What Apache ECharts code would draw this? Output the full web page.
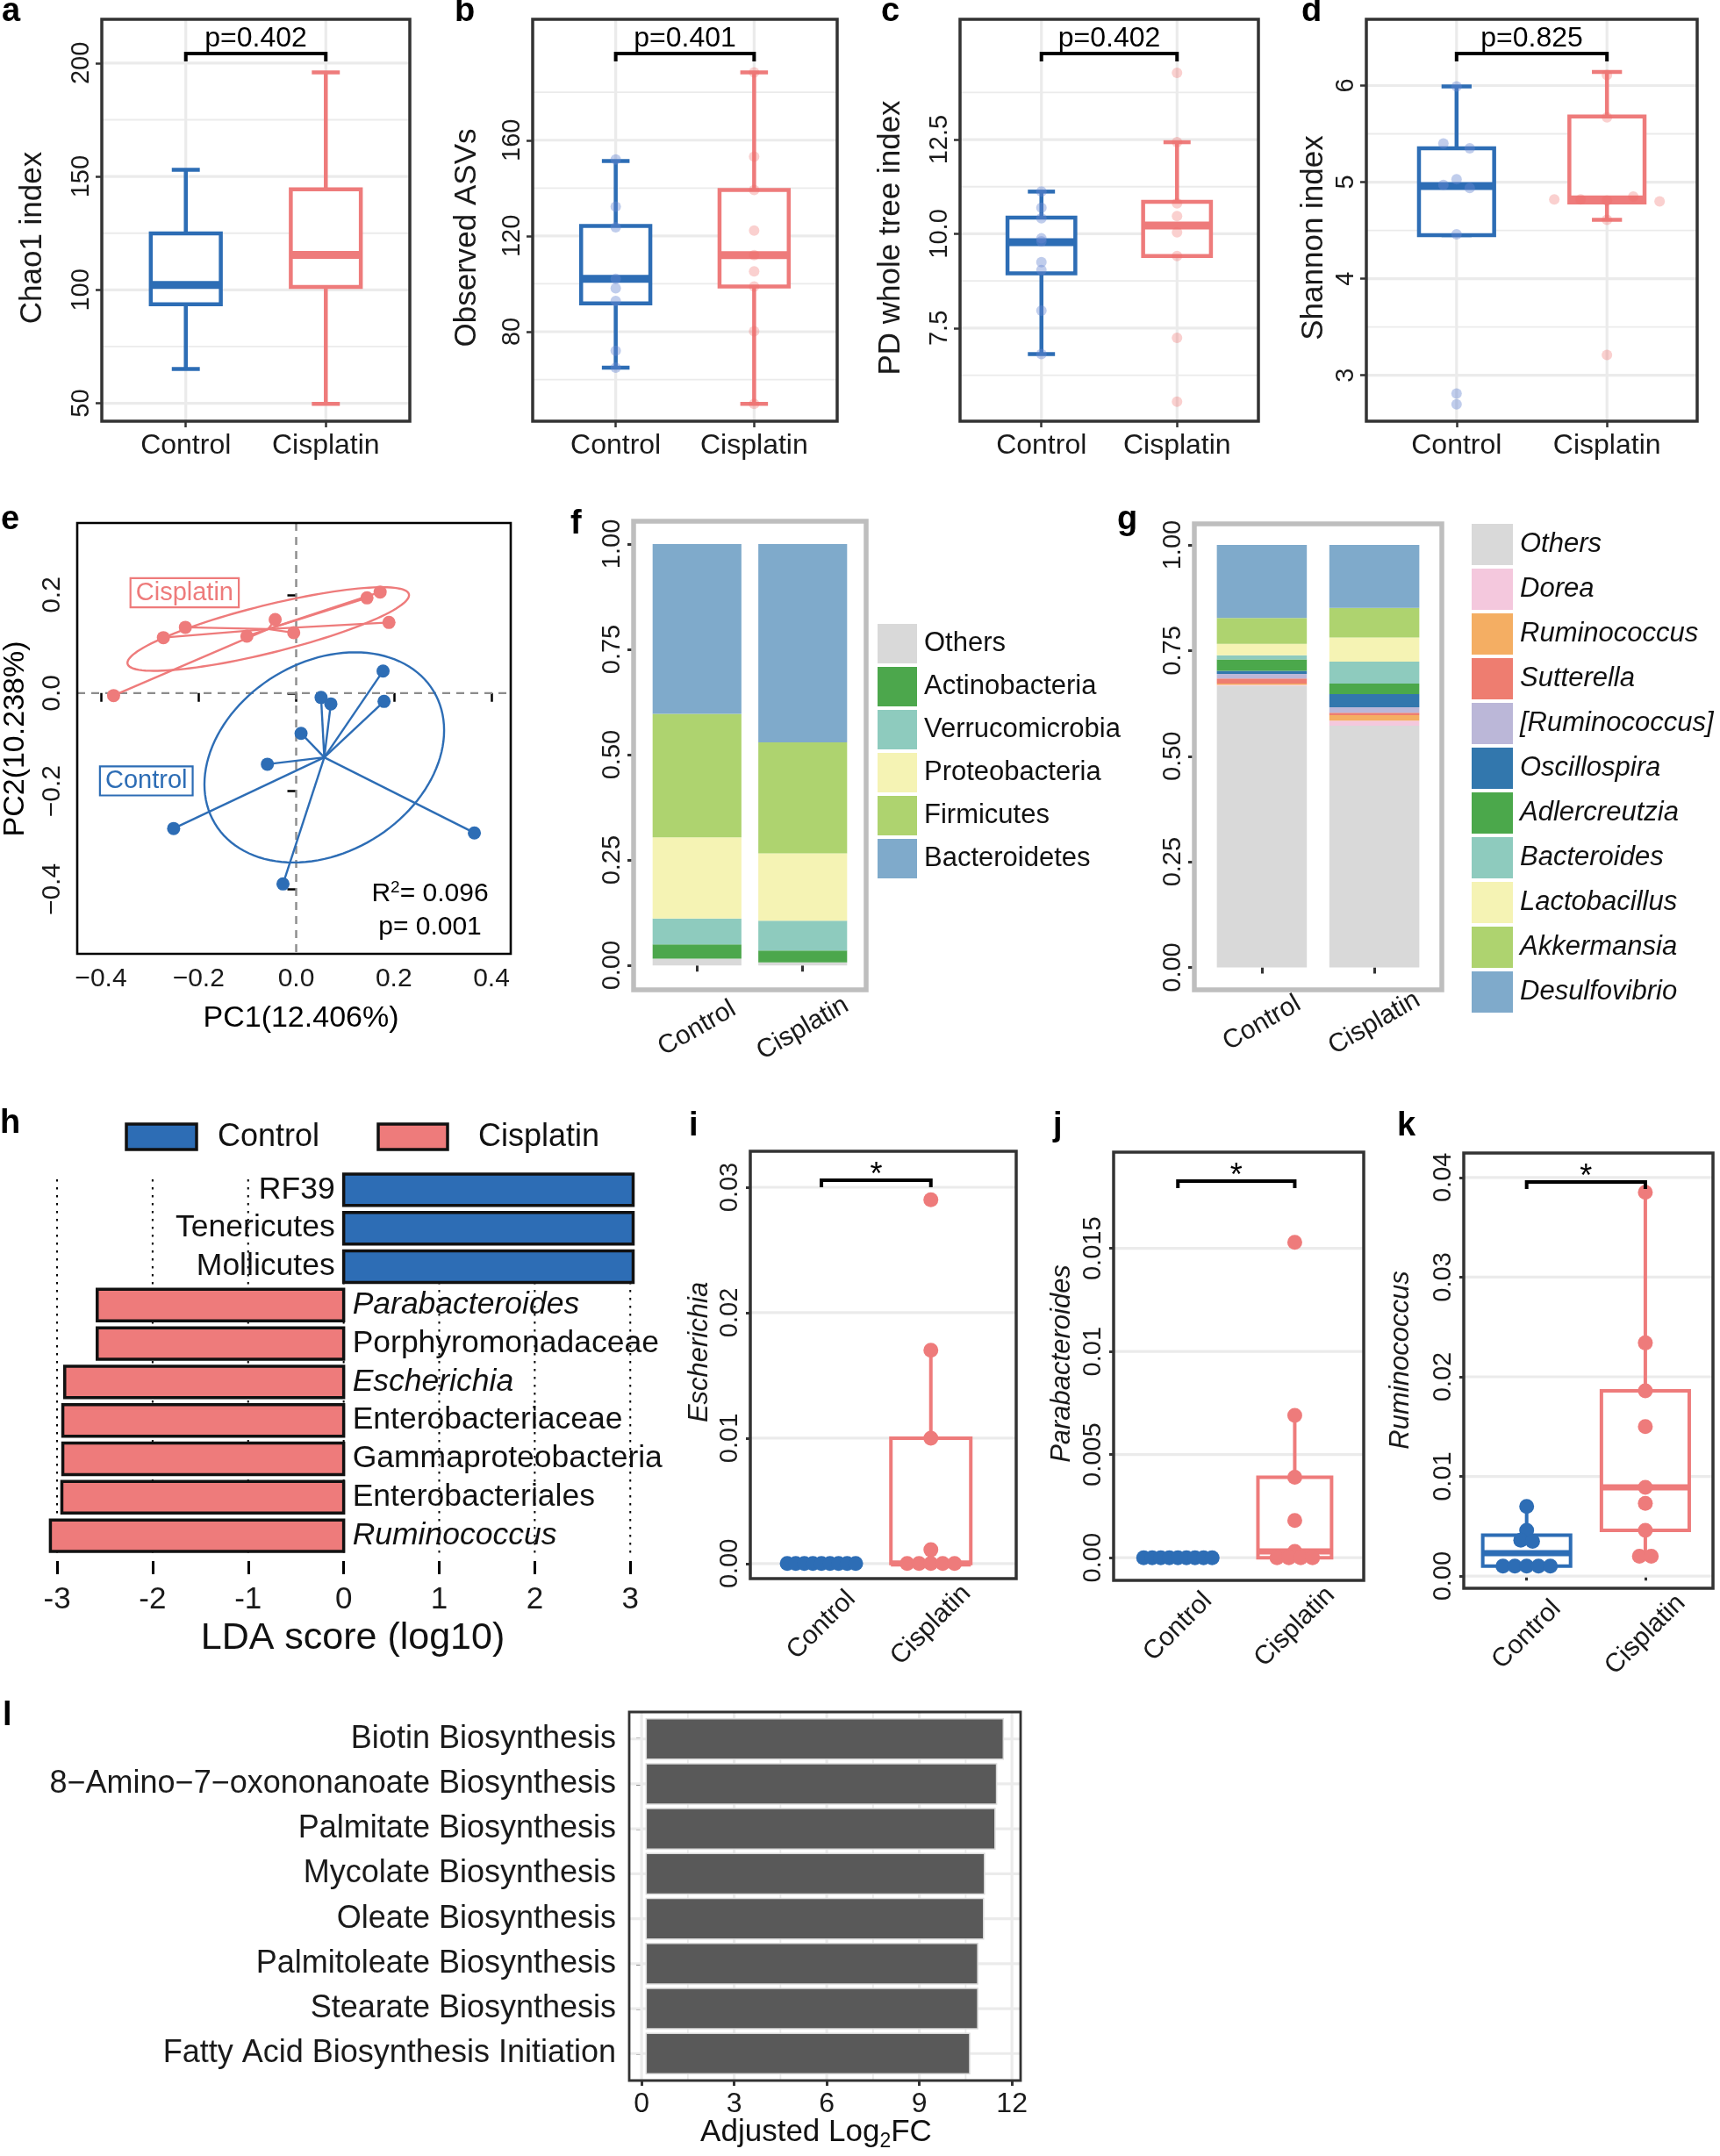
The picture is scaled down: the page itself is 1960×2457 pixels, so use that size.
<!DOCTYPE html>
<html><head><meta charset="utf-8">
<script src="https://cdn.jsdelivr.net/npm/echarts@6/dist/echarts.min.js"></script>
<style>html,body{margin:0;padding:0;background:#fff}#c{width:1960px;height:2457px}</style>
</head><body><div id="c"></div>
<script>
// ===================== DATA =====================
const groups = ['Control', 'Cisplatin'];

// a-d alpha diversity boxes: [lower whisker, Q1, median, Q3, upper whisker]
const chao1Box = [[65.1, 93.7, 102.2, 124.9, 152.9], [49.7, 101.3, 115.4, 144.3, 195.9]];
const chao1Points = [[], []];
const asvBox = [[65.0, 91.8, 102.1, 124.2, 151.3], [49.8, 98.9, 112.0, 139.2, 188.3]];
const asvPoints = [[151.9, 132.2, 123.6, 102.1, 98.1, 92.8, 72.0, 65.0], [188.3, 153.1, 139.2, 122.2, 112.0, 105.2, 98.9, 80.2, 49.8]];
const pdBox = [[6.81, 8.95, 9.78, 10.43, 11.12], [9.41, 9.41, 10.22, 10.85, 12.43]];
const pdPoints = [[11.12, 10.69, 10.41, 9.88, 9.80, 9.25, 9.04, 7.96, 6.81], [14.27, 12.43, 10.81, 10.47, 10.04, 9.41, 7.24, 5.55]];
const shannonBox = [[4.45, 4.45, 4.96, 5.35, 5.99], [4.61, 4.79, 4.82, 5.68, 6.14]];
const shannonPoints = [[5.99, 5.40, 5.35, 5.03, 4.97, 4.94, 4.46, 2.81, 2.70], [6.11, 5.67, 4.82, 4.82, 4.81, 4.85, 4.80, 4.61, 3.21]];
const alphaP = ['p=0.402', 'p=0.401', 'p=0.402', 'p=0.825'];
const chao1Ticks = [50, 100, 150, 200], chao1Minor = [75, 125, 175];
const asvTicks = [80, 120, 160], asvMinor = [60, 100, 140, 180];
const pdTicks = [7.5, 10, 12.5], pdTickLabels = ['7.5', '10.0', '12.5'], pdMinor = [6.25, 8.75, 11.25, 13.75];
const shannonTicks = [3, 4, 5, 6], shannonMinor = [3.5, 4.5, 5.5];

// e PCoA
const pcoaControl = [[0.178, 0.045], [0.180, -0.017], [0.051, -0.009], [0.071, -0.022], [0.010, -0.082], [-0.059, -0.145], [-0.251, -0.276], [-0.027, -0.389], [0.365, -0.285]];
const pcoaCisplatin = [[-0.374, -0.005], [-0.272, 0.113], [-0.227, 0.134], [-0.101, 0.116], [-0.043, 0.150], [-0.005, 0.123], [0.145, 0.194], [0.172, 0.206], [0.190, 0.144]];
const pcoaXTicks = [-0.4, -0.2, 0, 0.2, 0.4], pcoaYTicks = [-0.4, -0.2, 0, 0.2];

// f phylum composition (bottom -> top)
const phylumNames = ['Others', 'Actinobacteria', 'Verrucomicrobia', 'Proteobacteria', 'Firmicutes', 'Bacteroidetes'];
const phylumControl = [0.016, 0.034, 0.061, 0.193, 0.293, 0.403];
const phylumCisplatin = [0.007, 0.028, 0.071, 0.160, 0.263, 0.471];
// g genus composition (bottom -> top)
const genusNames = ['Others', 'Dorea', 'Ruminococcus', 'Sutterella', '[Ruminococcus]', 'Oscillospira', 'Adlercreutzia', 'Bacteroides', 'Lactobacillus', 'Akkermansia', 'Desulfovibrio'];
const genusControl = [0.667, 0.002, 0.003, 0.012, 0.011, 0.007, 0.027, 0.010, 0.027, 0.061, 0.173];
const genusCisplatin = [0.572, 0.012, 0.013, 0.006, 0.013, 0.031, 0.025, 0.052, 0.057, 0.070, 0.149];
const compTicks = [0, 0.25, 0.5, 0.75, 1], compTickLabels = ['0.00', '0.25', '0.50', '0.75', '1.00'];

// h LEfSe
const ldaTaxa = ['RF39', 'Tenericutes', 'Mollicutes', 'Parabacteroides', 'Porphyromonadaceae', 'Escherichia', 'Enterobacteriaceae', 'Gammaproteobacteria', 'Enterobacteriales', 'Ruminococcus'];
const ldaScores = [3.03, 3.03, 3.03, -2.58, -2.58, -2.92, -2.94, -2.94, -2.95, -3.07];
const ldaGenera = ['Parabacteroides', 'Escherichia', 'Ruminococcus'];
const ldaTicks = [-3, -2, -1, 0, 1, 2, 3];

// i-k relative abundance
const escherichiaBox = [[0, 0, 0, 0, 0], [0, 0, 0, 0.010, 0.017]];
const escherichiaPts = [[0, 0, 0, 0, 0, 0, 0, 0, 0], [0.029, 0.017, 0.010, 0.0011, 0, 0, 0, 0, 0]];
const paraBox = [[0, 0, 0, 0, 0], [0, 0, 0.0003, 0.0039, 0.0069]];
const paraPts = [[0, 0, 0, 0, 0, 0, 0, 0, 0], [0.0153, 0.0069, 0.0039, 0.0018, 0.0003, 0, 0, 0, 0]];
const rumiBox = [[0.0010, 0.0010, 0.0023, 0.0041, 0.0070], [0.0020, 0.0046, 0.0089, 0.0186, 0.0385]];
const rumiPts = [[0.0070, 0.0046, 0.0036, 0.0035, 0.0010, 0.0010, 0.0010, 0.0010, 0.0010], [0.0385, 0.0234, 0.0186, 0.0150, 0.0089, 0.0073, 0.0046, 0.0020, 0.0020]];
const escTicks = [0, 0.01, 0.02, 0.03], escLabels = ['0.00', '0.01', '0.02', '0.03'];
const paraTicks = [0, 0.005, 0.01, 0.015], paraLabels = ['0.00', '0.005', '0.01', '0.015'];
const rumiTicks = [0, 0.01, 0.02, 0.03, 0.04], rumiLabels = ['0.00', '0.01', '0.02', '0.03', '0.04'];

// l pathways
const pathways = ['Biotin Biosynthesis', '8\u2212Amino\u22127\u2212oxononanoate Biosynthesis', 'Palmitate Biosynthesis', 'Mycolate Biosynthesis', 'Oleate Biosynthesis', 'Palmitoleate Biosynthesis', 'Stearate Biosynthesis', 'Fatty Acid Biosynthesis Initiation'];
const pathwayLog2FC = [11.72, 11.50, 11.45, 11.11, 11.08, 10.89, 10.89, 10.63];
const fcTicks = [0, 3, 6, 9, 12];

// ===================== STYLE =====================
const FONT = '"Liberation Sans", Arial, Helvetica, sans-serif';
const TXT = '#1a1a1a';
const BLUE = '#2D6DB5', RED = '#EE7B7B';
const BLUE_FADE = 'rgba(105,135,210,0.42)', RED_FADE = 'rgba(238,110,105,0.32)';
const PHYLUM_COLORS = ['#D9D9D9', '#4CA74C', '#8ECBBE', '#F5F3B4', '#AED36F', '#7FAACB'];
const GENUS_COLORS = ['#D9D9D9', '#F4C8DD', '#F4AE63', '#EE7D70', '#BBB7D8', '#3277AD', '#4BA84B', '#8ECBBE', '#F5F3B4', '#AED36F', '#7FAACB'];
const ELLIPSE_K = 1.41;
const BAR_BASE = 0.15;

const opt = { animation: false, backgroundColor: '#fff', grid: [], xAxis: [], yAxis: [], series: [], legend: [], graphic: { elements: [] } };
const G = opt.graphic.elements;

function fontStr(size, italic, bold) { return (italic ? 'italic ' : 'normal ') + (bold ? 'bold ' : 'normal ') + size + 'px ' + FONT; }
function T(x, y, text, o) {
  o = o || {};
  const el = { type: 'text', x: x, y: y, rotation: o.rot || 0, silent: true, z: 50,
    style: { text: text, font: fontStr(o.size || 30, o.italic, o.bold), fill: o.color || TXT,
      textAlign: o.align || 'center', textVerticalAlign: o.va || 'middle', align: o.align || 'center', verticalAlign: o.va || 'middle' } };
  if (o.rich) el.style.rich = o.rich;
  G.push(el);
}
function lookupLabel(ticks, labels) {
  return function (v) { for (let i = 0; i < ticks.length; i++) if (Math.abs(ticks[i] - v) < 1e-9) return labels[i]; return ''; };
}
function valAxis(min, max, ticks, labels, o) {
  o = o || {};
  const ax = {
    type: 'value', min: min, max: max, inverse: !!o.inverse, offset: o.offset || 0, show: o.show !== false,
    axisLine: { show: false },
    axisTick: { show: o.tick !== false, customValues: ticks, length: o.tickLen || 7, inside: false, lineStyle: { color: o.tickColor || '#333', width: o.tickW || 2.5 } },
    axisLabel: { show: o.label !== false, customValues: ticks, formatter: lookupLabel(ticks, labels), rotate: o.rotate || 0, margin: o.margin == null ? 10 : o.margin,
      fontSize: o.fontSize || 29, fontFamily: FONT, color: TXT, fontStyle: o.italic ? 'italic' : 'normal', hideOverlap: false, showMinLabel: true, showMaxLabel: true },
    splitLine: { show: false }, minorTick: { show: false }, minorSplitLine: { show: false }, axisPointer: { show: false }
  };
  if (o.align) ax.axisLabel.align = o.align;
  if (o.va) ax.axisLabel.verticalAlign = o.va;
  return ax;
}
function addCartesian(rect, xa, ya) {
  const gi = opt.grid.length;
  opt.grid.push({ left: rect[0], top: rect[1], width: rect[2] - rect[0], height: rect[3] - rect[1], containLabel: false, outerBoundsMode: 'none', show: false });
  xa.gridIndex = gi; ya.gridIndex = gi;
  opt.xAxis.push(xa); opt.yAxis.push(ya);
  return gi;
}
function gridLines(gi, hMaj, hMin, vMaj, vMin, st) {
  st = st || {};
  const data = [];
  hMin.forEach(v => data.push([v, 0, 0])); hMaj.forEach(v => data.push([v, 1, 0]));
  vMin.forEach(v => data.push([v, 0, 1])); vMaj.forEach(v => data.push([v, 1, 1]));
  opt.series.push({ type: 'custom', xAxisIndex: gi, yAxisIndex: gi, z: 1, silent: true, data: data,
    renderItem: function (params, api) {
      const v = api.value(0), major = api.value(1), dir = api.value(2), c = params.coordSys;
      let shape;
      if (dir === 0) { const y = api.coord([0, v])[1]; shape = { x1: c.x, y1: y, x2: c.x + c.width, y2: y }; }
      else { const x = api.coord([v, 0])[0]; shape = { x1: x, y1: c.y + (st.topPad || 0), x2: x, y2: c.y + c.height }; }
      const style = { stroke: st.color || '#EBEBEB', lineWidth: major ? (st.majW || 3.2) : (st.minW || 1.8) };
      if (st.dash) style.lineDash = st.dash;
      return { type: 'line', shape: shape, style: style };
    } });
}
function frame(gi, color, width) {
  opt.series.push({ type: 'custom', xAxisIndex: gi, yAxisIndex: gi, z: 8, silent: true, data: [[0, 0]],
    renderItem: function (params) { const c = params.coordSys;
      return { type: 'rect', shape: { x: c.x, y: c.y, width: c.width, height: c.height }, style: { fill: 'none', stroke: color, lineWidth: width } }; } });
}
function swarm(vals, tol, maxSpan, step) {
  const off = vals.map(() => 0), used = vals.map(() => false);
  for (let i = 0; i < vals.length; i++) {
    if (used[i]) continue;
    const grp = [i]; used[i] = true;
    for (let j = i + 1; j < vals.length; j++) if (!used[j] && Math.abs(vals[j] - vals[i]) <= tol) { grp.push(j); used[j] = true; }
    const n = grp.length, s = n > 1 ? Math.min(step, maxSpan / (n - 1)) : 0;
    grp.forEach((idx, k) => { off[idx] = (k - (n - 1) / 2) * s; });
  }
  return off;
}
function boxSeries(gi, box, st) {
  opt.series.push({ type: 'custom', xAxisIndex: gi, yAxisIndex: gi, z: 3, silent: true,
    data: box.map((b, i) => [i + 1].concat(b)),
    renderItem: function (params, api) {
      const g = api.value(0), color = g === 1 ? BLUE : RED;
      const yv = k => api.coord([g, api.value(k)])[1];
      const yLw = yv(1), yQ1 = yv(2), yMed = yv(3), yQ3 = yv(4), yUw = yv(5);
      const cx = api.coord([g, 0])[0];
      const xl = api.coord([g - st.boxW / 2, 0])[0], xr = api.coord([g + st.boxW / 2, 0])[0];
      const ls = { stroke: color, lineWidth: st.lw };
      const ch = [
        { type: 'line', shape: { x1: cx, y1: yUw, x2: cx, y2: yQ3 }, style: ls },
        { type: 'line', shape: { x1: cx, y1: yQ1, x2: cx, y2: yLw }, style: ls }
      ];
      if (st.capW) {
        const cl = api.coord([g - st.capW / 2, 0])[0], cr = api.coord([g + st.capW / 2, 0])[0];
        ch.push({ type: 'line', shape: { x1: cl, y1: yUw, x2: cr, y2: yUw }, style: ls });
        ch.push({ type: 'line', shape: { x1: cl, y1: yLw, x2: cr, y2: yLw }, style: ls });
      }
      ch.push({ type: 'rect', shape: { x: xl, y: yQ3, width: xr - xl, height: Math.max(0, yQ1 - yQ3) }, style: { fill: '#fff', stroke: color, lineWidth: st.lw } });
      ch.push({ type: 'line', shape: { x1: xl, y1: yMed, x2: xr, y2: yMed }, style: { stroke: color, lineWidth: st.medW } });
      return { type: 'group', children: ch };
    } });
}
function pointSeries(gi, pts, st) {
  const data = [];
  pts.forEach((arr, gIdx) => {
    const off = st.step ? swarm(arr, st.tol, st.maxSpan, st.step) : arr.map(() => 0);
    arr.forEach((v, i) => data.push([gIdx + 1, v, off[i]]));
  });
  opt.series.push({ type: 'custom', xAxisIndex: gi, yAxisIndex: gi, z: 4, silent: true, data: data,
    renderItem: function (params, api) {
      const g = api.value(0), p = api.coord([g, api.value(1)]);
      return { type: 'circle', shape: { cx: p[0] + api.value(2), cy: p[1], r: st.r }, style: { fill: g === 1 ? st.c1 : st.c2 } };
    } });
}
function bracket(gi, label, o) {
  opt.series.push({ type: 'custom', xAxisIndex: gi, yAxisIndex: gi, z: 6, silent: true, data: [[1.5, 0]],
    renderItem: function (params, api) {
      const c = params.coordSys, x1 = api.coord([1, 0])[0], x2 = api.coord([2, 0])[0];
      const y = c.y + o.lineY, yt = y + o.drop;
      return { type: 'group', children: [
        { type: 'polyline', shape: { points: [[x1, yt], [x1, y], [x2, y], [x2, yt]] }, style: { stroke: '#000', lineWidth: o.lw, fill: 'none' } },
        { type: 'text', x: (x1 + x2) / 2, y: c.y + o.textY, style: { text: label, font: fontStr(o.size, false, false), fill: '#000', align: 'center', verticalAlign: 'middle', textAlign: 'center', textVerticalAlign: 'middle' } }
      ] };
    } });
}

// ===================== a-d alpha diversity =====================
function alphaPanel(P) {
  const gi = addCartesian(P.rect,
    valAxis(0.4, 2.6, [1, 2], groups, { margin: 12, fontSize: 32, tickLen: 7 }),
    valAxis(P.yMin, P.yMax, P.ticks, P.labels || P.ticks.map(String), { rotate: 90, margin: 9, fontSize: 29, tickLen: 7 }));
  gridLines(gi, P.ticks, P.minor, [1, 2], []);
  boxSeries(gi, P.box, { boxW: 0.5, capW: 0.2, lw: 4.5, medW: 9 });
  pointSeries(gi, P.points, { r: 6, c1: BLUE_FADE, c2: RED_FADE, step: P.step || 0, tol: P.tol || 0, maxSpan: 120 });
  bracket(gi, P.p, { lineY: 39, drop: 9, lw: 4, textY: 22, size: 32 });
  frame(gi, '#333', 3.5);
  T(P.title[0], P.title[1], P.title[2], { size: 35, rot: Math.PI / 2 });
  T(P.letter[0], P.letter[1], P.letter[2], { size: 38, bold: true, align: 'left', color: '#000' });
}
alphaPanel({ rect: [116, 22, 467, 480], yMin: 42.1, yMax: 219.3, ticks: chao1Ticks, minor: chao1Minor, box: chao1Box, points: chao1Points, p: alphaP[0], title: [37, 271, 'Chao1 index'], letter: [2, 14, 'a'] });
alphaPanel({ rect: [607, 22, 954, 480], yMin: 42.6, yMax: 210.5, ticks: asvTicks, minor: asvMinor, box: asvBox, points: asvPoints, p: alphaP[1], title: [532, 271, 'Observed ASVs'], letter: [518, 14, 'b'] });
alphaPanel({ rect: [1094, 22, 1434, 480], yMin: 5.03, yMax: 15.69, ticks: pdTicks, labels: pdTickLabels, minor: pdMinor, box: pdBox, points: pdPoints, p: alphaP[2], title: [1015, 271, 'PD whole tree index'], letter: [1004, 14, 'c'] });
alphaPanel({ rect: [1557, 22, 1934, 480], yMin: 2.524, yMax: 6.686, ticks: shannonTicks, minor: shannonMinor, box: shannonBox, points: shannonPoints, p: alphaP[3], title: [1497, 271, 'Shannon index'], letter: [1483, 14, 'd'], step: 30, tol: 0.06 });

// ===================== e PCoA =====================
(function () {
  const fmt = v => (v < 0 ? '\u2212' : '') + Math.abs(v).toFixed(1);
  const gi = addCartesian([88, 596, 582, 1087],
    valAxis(-0.4485, 0.4395, pcoaXTicks, pcoaXTicks.map(fmt), { margin: 14, fontSize: 30, tickLen: 10, tickColor: '#000', tickW: 2.5 }),
    valAxis(-0.5315, 0.3467, pcoaYTicks, pcoaYTicks.map(fmt), { rotate: 90, margin: 13, fontSize: 30, tickLen: 10, tickColor: '#000', tickW: 2.5 }));
  gridLines(gi, [0], [], [0], [], { color: '#8c8c8c', majW: 2.4, dash: [9, 7] });
  function covEllipse(pts, k) {
    const n = pts.length;
    const mx = pts.reduce((s, p) => s + p[0], 0) / n, my = pts.reduce((s, p) => s + p[1], 0) / n;
    let sxx = 0, syy = 0, sxy = 0;
    pts.forEach(p => { const dx = p[0] - mx, dy = p[1] - my; sxx += dx * dx; syy += dy * dy; sxy += dx * dy; });
    sxx /= n - 1; syy /= n - 1; sxy /= n - 1;
    const tr = sxx + syy, det = sxx * syy - sxy * sxy, disc = Math.sqrt(Math.max(0, tr * tr / 4 - det));
    const l1 = tr / 2 + disc, l2 = tr / 2 - disc;
    const ang = Math.atan2(l1 - sxx, sxy);
    const a = k * Math.sqrt(l1), b = k * Math.sqrt(Math.max(l2, 0));
    const out = [];
    for (let i = 0; i < 120; i++) {
      const t = 2 * Math.PI * i / 120, ex = a * Math.cos(t), ey = b * Math.sin(t);
      out.push([mx + ex * Math.cos(ang) - ey * Math.sin(ang), my + ex * Math.sin(ang) + ey * Math.cos(ang)]);
    }
    return { c: [mx, my], pts: out };
  }
  function group(pts, color) {
    const e = covEllipse(pts, ELLIPSE_K);
    opt.series.push({ type: 'custom', xAxisIndex: gi, yAxisIndex: gi, z: 3, silent: true, data: pts,
      renderItem: function (params, api) {
        const c = api.coord(e.c), p = api.coord([api.value(0), api.value(1)]);
        return { type: 'line', shape: { x1: c[0], y1: c[1], x2: p[0], y2: p[1] }, style: { stroke: color, lineWidth: 2.4 } };
      } });
    opt.series.push({ type: 'custom', xAxisIndex: gi, yAxisIndex: gi, z: 3, silent: true, data: [e.c],
      renderItem: function (params, api) {
        return { type: 'polygon', shape: { points: e.pts.map(q => api.coord(q)) }, style: { fill: 'none', stroke: color, lineWidth: 2.4 } };
      } });
    opt.series.push({ type: 'scatter', xAxisIndex: gi, yAxisIndex: gi, z: 4, silent: true, symbolSize: 15, itemStyle: { color: color, opacity: 1 }, data: pts });
  }
  group(pcoaCisplatin, RED);
  group(pcoaControl, BLUE);
  const tagPos = [[-0.2285, 0.2045, 'Cisplatin', RED], [-0.307, -0.179, 'Control', BLUE]];
  opt.series.push({ type: 'custom', xAxisIndex: gi, yAxisIndex: gi, z: 5, silent: true, data: tagPos.map(t => [t[0], t[1]]),
    renderItem: function (params, api) {
      const t = tagPos[params.dataIndex], p = api.coord([t[0], t[1]]);
      return { type: 'text', x: p[0], y: p[1], style: { text: t[2], font: fontStr(29), fill: t[3], align: 'center', verticalAlign: 'middle', textAlign: 'center', textVerticalAlign: 'middle',
        borderColor: t[3], borderWidth: 2.2, padding: [2, 5, 0, 5], backgroundColor: '#fff' } };
    } });
  frame(gi, '#000', 2.6);
  T(490, 1019, '{a|R}{s|2}{a|= 0.096}', { size: 30, rich: { a: { fontSize: 30, fontFamily: FONT, fill: '#000', color: '#000', verticalAlign: 'middle', lineHeight: 34 }, s: { fontSize: 19, fontFamily: FONT, fill: '#000', color: '#000', verticalAlign: 'top', lineHeight: 12 } } });
  T(490, 1057, 'p= 0.001', { size: 30, color: '#000' });
  T(343, 1161, 'PC1(12.406%)', { size: 34, color: '#000' });
  T(18, 842, 'PC2(10.238%)', { size: 34, color: '#000', rot: Math.PI / 2 });
  T(1, 593, 'e', { size: 38, bold: true, align: 'left', color: '#000' });
})();

// ===================== f, g composition =====================
function compPanel(P) {
  const gi = addCartesian(P.rect,
    valAxis(0.4, 2.6, [1, 2], groups, { margin: P.xMargin, fontSize: 30, tickLen: 7, rotate: 30, align: 'center', va: 'middle', tickW: 3 }),
    valAxis(P.yMin, P.yMax, compTicks, compTickLabels, { rotate: 90, margin: 10, fontSize: 29, tickLen: 7, tickW: 3 }));
  P.names.forEach((name, k) => {
    const data = [P.ctrl, P.cis].map((arr, gIdx) => {
      const y0 = arr.slice(0, k).reduce((s, v) => s + v, 0);
      return [gIdx + 1, y0, y0 + arr[k]];
    });
    opt.series.push({ type: 'custom', name: name, xAxisIndex: gi, yAxisIndex: gi, z: 3, silent: true, itemStyle: { color: P.colors[k] }, data: data,
      renderItem: function (params, api) {
        const g = api.value(0);
        const a = api.coord([g - P.barW / 2, api.value(2)]), b = api.coord([g + P.barW / 2, api.value(1)]);
        return { type: 'rect', shape: { x: a[0], y: a[1], width: b[0] - a[0], height: b[1] - a[1] }, style: { fill: P.colors[k] } };
      } });
  });
  frame(gi, '#BEBEBE', 5.5);
  opt.legend.push({ show: true, orient: 'vertical', left: P.legend[0], top: P.legend[1], padding: 0, itemWidth: P.legend[2], itemHeight: P.legend[2], itemGap: 4,
    icon: 'rect', selectedMode: false, data: P.names.slice(), textStyle: { fontSize: 31, fontFamily: FONT, color: '#111', fontStyle: P.italic ? 'italic' : 'normal', padding: [0, 0, 0, 3] } });
  T(P.letter[0], P.letter[1], P.letter[2], { size: 38, bold: true, align: 'left', color: '#000' });
}
compPanel({ rect: [722, 594, 987, 1128], yMin: -0.058, yMax: 1.054, names: phylumNames, ctrl: phylumControl, cis: phylumCisplatin, colors: PHYLUM_COLORS, barW: 0.84, xMargin: 44, legend: [1000, 711, 45], letter: [650, 598, 'f'] });
compPanel({ rect: [1361, 597, 1643, 1128], yMin: -0.053, yMax: 1.05, names: genusNames, ctrl: genusControl, cis: genusCisplatin, colors: GENUS_COLORS, barW: 0.8, xMargin: 38, legend: [1677, 597, 47], italic: true, letter: [1273, 593, 'g'] });

// ===================== h LEfSe =====================
(function () {
  const gi = addCartesian([40, 1334, 740, 1772],
    valAxis(-3.23, 3.2, ldaTicks, ldaTicks.map(v => (v < 0 ? '-' : '') + Math.abs(v)), { offset: 7, margin: 27, fontSize: 35, tickLen: 15, tickColor: '#000', tickW: 3 }),
    valAxis(0.5, 10.5, [], [], { inverse: true, show: false }));
  gridLines(gi, [], [], ldaTicks, [], { color: '#000', majW: 2, dash: [2.5, 6.5], topPad: 10 });
  opt.series.push({ type: 'custom', xAxisIndex: gi, yAxisIndex: gi, z: 3, silent: true, data: ldaScores.map((v, i) => [v, i + 1]),
    renderItem: function (params, api) {
      const v = api.value(0), r = api.value(1);
      const p0 = api.coord([0, r - 0.41]), p1 = api.coord([v, r + 0.41]), cy = api.coord([0, r])[1];
      const name = ldaTaxa[params.dataIndex], it = ldaGenera.indexOf(name) >= 0;
      return { type: 'group', children: [
        { type: 'rect', shape: { x: Math.min(p0[0], p1[0]), y: Math.min(p0[1], p1[1]), width: Math.abs(p1[0] - p0[0]), height: Math.abs(p1[1] - p0[1]) }, style: { fill: v > 0 ? BLUE : RED, stroke: '#111', lineWidth: 3.5 } },
        { type: 'text', x: v > 0 ? p0[0] - 10 : p0[0] + 10, y: cy, style: { text: name, font: fontStr(35.5, it), fill: '#111', align: v > 0 ? 'right' : 'left', verticalAlign: 'middle', textAlign: v > 0 ? 'right' : 'left', textVerticalAlign: 'middle' } }
      ] };
    } });
  G.push({ type: 'rect', shape: { x: 144, y: 1281, width: 80, height: 29 }, style: { fill: BLUE, stroke: '#111', lineWidth: 3.5 }, z: 50, silent: true });
  G.push({ type: 'rect', shape: { x: 431, y: 1281, width: 79, height: 29 }, style: { fill: RED, stroke: '#111', lineWidth: 3.5 }, z: 50, silent: true });
  T(248, 1296, 'Control', { size: 36, align: 'left', color: '#111' });
  T(545, 1296, 'Cisplatin', { size: 36, align: 'left', color: '#111' });
  T(402, 1867, 'LDA score (log10)', { size: 43, color: '#111' });
  T(0, 1281, 'h', { size: 38, bold: true, align: 'left', color: '#000' });
})();

// ===================== i-k =====================
function abunPanel(P) {
  const gi = addCartesian(P.rect,
    valAxis(P.xMin, P.xMax, [1, 2], groups, { margin: 53, fontSize: 30, tickLen: 5, rotate: 45, align: 'center', va: 'middle', tickW: 3 }),
    valAxis(P.yMin, P.yMax, P.ticks, P.labels, { rotate: 90, margin: 9, fontSize: 29, tickLen: 5, tickW: 3 }));
  gridLines(gi, P.ticks, [], [], []);
  boxSeries(gi, P.box, { boxW: P.boxW, capW: 0, lw: 4, medW: 7 });
  pointSeries(gi, P.points, { r: 8.5, c1: BLUE, c2: RED, step: 13.5, tol: (P.yMax - P.yMin) * 0.012, maxSpan: 78 });
  bracket(gi, '*', { lineY: 33, drop: 8, lw: 4, textY: 28, size: 36 });
  frame(gi, '#333', 3.5);
  T(P.title[0], P.title[1], P.title[2], { size: 31, italic: true, rot: Math.PI / 2 });
  T(P.letter[0], P.letter[1], P.letter[2], { size: 38, bold: true, align: 'left', color: '#000' });
}
abunPanel({ rect: [855, 1312, 1158, 1799], xMin: 0.35, xMax: 2.78, yMin: -0.0012, yMax: 0.03287, ticks: escTicks, labels: escLabels, box: escherichiaBox, points: escherichiaPts, boxW: 0.73, title: [797, 1541, 'Escherichia'], letter: [785, 1284, 'i'] });
abunPanel({ rect: [1269, 1313, 1554, 1801], xMin: 0.45, xMax: 2.59, yMin: -0.0011, yMax: 0.01967, ticks: paraTicks, labels: paraLabels, box: paraBox, points: paraPts, boxW: 0.63, title: [1210, 1554, 'Parabacteroides'], letter: [1200, 1284, 'j'] });
abunPanel({ rect: [1668, 1314, 1952, 1810], xMin: 0.47, xMax: 2.57, yMin: -0.00122, yMax: 0.04245, ticks: rumiTicks, labels: rumiLabels, box: rumiBox, points: rumiPts, boxW: 0.74, title: [1596, 1550, 'Ruminococcus'], letter: [1592, 1284, 'k'] });

// ===================== l pathways =====================
(function () {
  const gi = addCartesian([717, 1951, 1163, 2371],
    valAxis(-0.4, 12.28, fcTicks, fcTicks.map(String), { margin: 11, fontSize: 32, tickLen: 6, tickW: 3 }),
    valAxis(0.4, 8.6, [1, 2, 3, 4, 5, 6, 7, 8], pathways, { inverse: true, margin: 15, fontSize: 36, tickLen: 6, tickW: 3 }));
  gridLines(gi, [1, 2, 3, 4, 5, 6, 7, 8], [], fcTicks, [1.5, 4.5, 7.5, 10.5]);
  opt.series.push({ type: 'custom', xAxisIndex: gi, yAxisIndex: gi, z: 3, silent: true, data: pathwayLog2FC.map((v, i) => [v, i + 1]),
    renderItem: function (params, api) {
      const v = api.value(0), r = api.value(1);
      const a = api.coord([BAR_BASE, r - 0.45]), b = api.coord([v, r + 0.45]);
      return { type: 'rect', shape: { x: a[0], y: Math.min(a[1], b[1]), width: b[0] - a[0], height: Math.abs(b[1] - a[1]) }, style: { fill: '#595959', stroke: '#DADADA', lineWidth: 1.5 } };
    } });
  frame(gi, '#333', 2.8);
  T(930, 2430, '{a|Adjusted Log}{s|2}{a|FC}', { size: 35, rich: { a: { fontSize: 35, fontFamily: FONT, fill: '#111', color: '#111', verticalAlign: 'middle', lineHeight: 44 }, s: { fontSize: 23, fontFamily: FONT, fill: '#111', color: '#111', verticalAlign: 'bottom', lineHeight: 10 } } });
  T(3, 1956, 'l', { size: 38, bold: true, align: 'left', color: '#000' });
})();

const chart = echarts.init(document.getElementById('c'), null, { renderer: 'canvas', width: 1960, height: 2457 });
chart.setOption(opt);
</script></body></html>
